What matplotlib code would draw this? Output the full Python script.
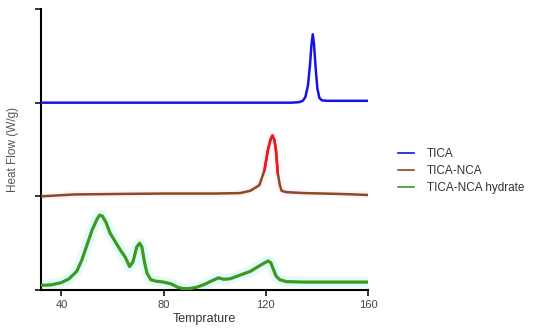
import numpy as np
import matplotlib.pyplot as plt

plt.rcParams['font.family'] = ['Liberation Sans', 'DejaVu Sans']

# TICA (offset 2)
t_tica = [32, 60, 90, 120, 130, 133, 134.5, 135.5, 136.5, 137.3, 137.9, 138.4,
          138.9, 139.5, 140.2, 141, 142, 144, 150, 160]
hf_tica = [2.0, 2.0, 2.0, 2.0, 2.0, 2.005, 2.02, 2.06, 2.18, 2.4, 2.62, 2.73,
           2.62, 2.38, 2.15, 2.05, 2.025, 2.02, 2.02, 2.02]

# TICA-NCA (offset 1)
t_nca = [32, 45, 60, 80, 100, 110, 114, 117.5, 119.5, 120.8, 121.8, 122.6,
         123.4, 124, 124.7, 125.5, 126.2, 128, 135, 150, 160]
hf_nca = [1.0, 1.02, 1.025, 1.03, 1.03, 1.035, 1.06, 1.12, 1.28, 1.49, 1.6, 1.65,
          1.6, 1.49, 1.25, 1.12, 1.06, 1.045, 1.035, 1.025, 1.015]

# TICA-NCA hydrate
t_hyd = [32, 36, 40, 43, 46, 48, 50, 52, 54, 55, 56, 57.5, 59, 61, 63, 65,
         66.7, 68, 69.5, 70.6, 71.5, 72.5, 73.5, 75, 77, 80, 83, 85.5, 87.5,
         90, 93, 96, 99, 101.5, 103.5, 106, 110, 114, 117, 119.5, 121, 122,
         123, 124, 125.5, 128, 135, 145, 160]
hf_hyd = [0.05, 0.055, 0.08, 0.12, 0.2, 0.32, 0.48, 0.64, 0.76, 0.80, 0.79, 0.72,
          0.61, 0.52, 0.43, 0.35, 0.25, 0.3, 0.46, 0.50, 0.46, 0.3, 0.18, 0.11,
          0.095, 0.085, 0.065, 0.03, 0.015, 0.015, 0.03, 0.06, 0.1, 0.13, 0.115,
          0.12, 0.16, 0.2, 0.25, 0.29, 0.31, 0.29, 0.22, 0.15, 0.11, 0.09, 0.085,
          0.085, 0.085]

fig = plt.figure(figsize=(5.5, 3.33), dpi=100)
ax = fig.add_axes([0.0745, 0.129, 0.5945, 0.844])

# faint glow under the lines
ax.plot(t_hyd, hf_hyd, color="#e4fbfb", lw=8, solid_capstyle="butt", zorder=1)
ax.plot(t_nca, hf_nca, color="#fdf2fb", lw=5, solid_capstyle="butt", zorder=1)

ax.plot(t_tica, hf_tica, color="#1414e6", lw=1.8, label="TICA", zorder=3)
ax.plot(t_nca, hf_nca, color="#8b4a22", lw=1.8, label="TICA-NCA", zorder=3)
t_n = np.array(t_nca)
h_n = np.array(hf_nca)
top = h_n > 1.2
ax.plot(t_n[top], h_n[top], color="#f01818", lw=1.8, zorder=4)
ax.plot(t_hyd, hf_hyd, color="#3c9a1e", lw=2.3, label="TICA-NCA hydrate", zorder=3)

ax.set_xlim(32, 160)
ax.set_ylim(0, 3)
ax.set_xticks([40, 80, 120, 160])
ax.set_yticks([0, 1, 2, 3])
ax.set_yticklabels([])
ax.spines["top"].set_visible(False)
ax.spines["right"].set_visible(False)
ax.spines["left"].set_linewidth(1.5)
ax.spines["bottom"].set_linewidth(1.5)
ax.tick_params(direction="out", length=4, width=1.3, labelsize=8, colors="#222222",
               labelcolor="#444444", pad=3)
ax.set_xlabel("Temprature", fontsize=9, color="#333333", labelpad=2)
ax.set_ylabel("Heat Flow (W/g)", fontsize=8.5, color="#555555", labelpad=9)

leg = fig.legend(loc="upper left", bbox_to_anchor=(0.705, 0.588), frameon=False,
                 fontsize=8.5, handlelength=1.3, handletextpad=1.1, labelspacing=0.45,
                 labelcolor="#333333")
for ln in leg.get_lines():
    ln.set_linewidth(1.2)

fig.savefig("out.png", dpi=100)
